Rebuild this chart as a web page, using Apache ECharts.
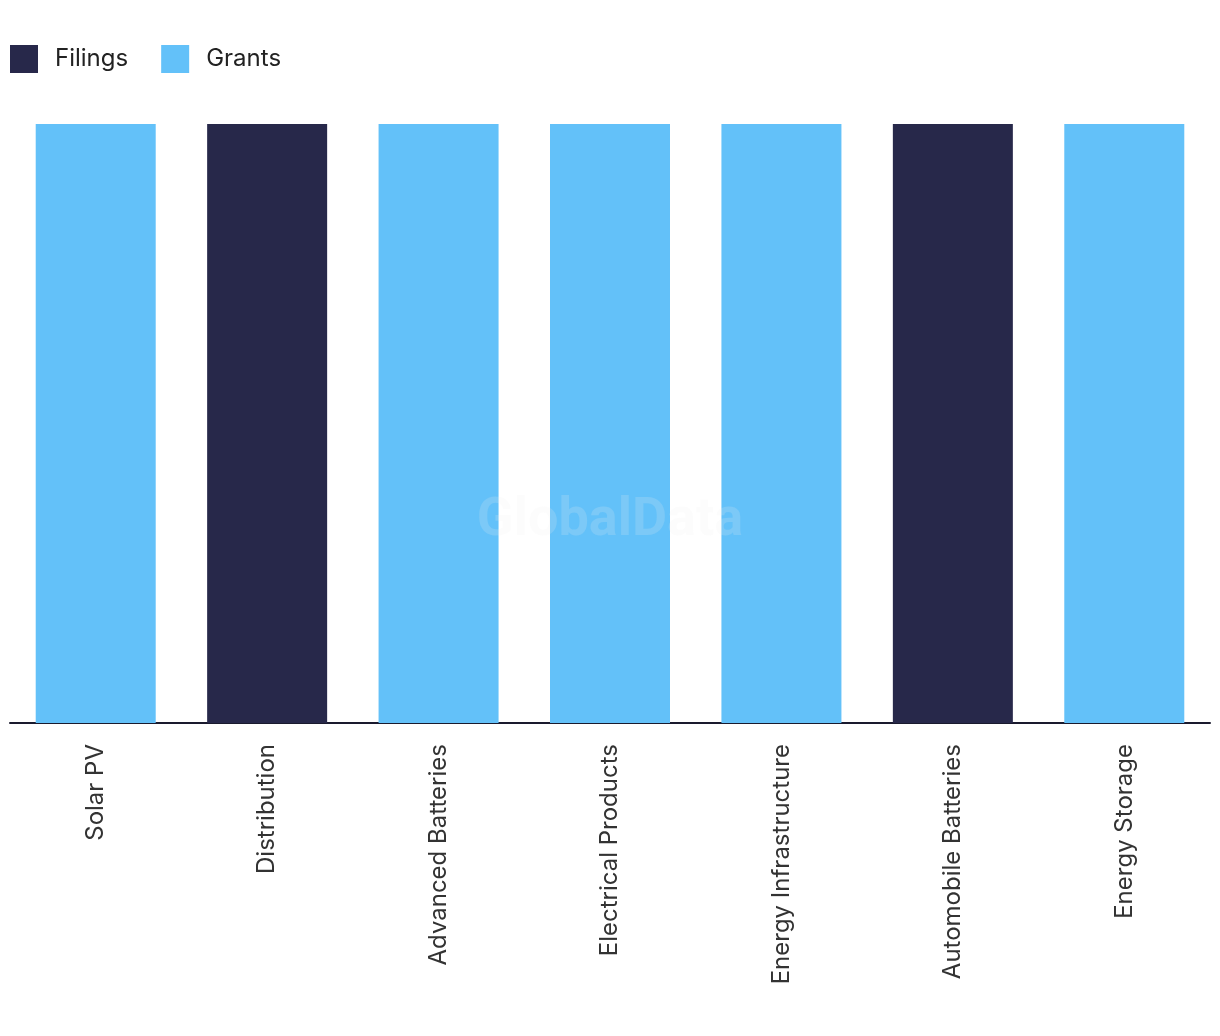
<!DOCTYPE html>
<html>
<head>
<meta charset="utf-8">
<script src="https://cdn.jsdelivr.net/npm/echarts@6/dist/echarts.min.js"></script>
<style>html,body{margin:0;padding:0;background:#fff}#c{width:1220px;height:1036px}</style>
</head>
<body>
<div id="c"></div>
<script>
const categories = ['Solar PV','Distribution','Advanced Batteries','Electrical Products','Energy Infrastructure','Automobile Batteries','Energy Storage'];
const filings = [0,1,0,0,0,1,0];
const grants = [1,0,1,1,1,0,1];
const seriesNames = ['Filings','Grants'];

const chart = echarts.init(document.getElementById('c'));
chart.setOption({
  animation:false,
  backgroundColor:'#fff',
  legend:{
    left:10, top:45, padding:0, itemWidth:28, itemHeight:28, itemGap:33,
    icon:'rect',
    textStyle:{fontFamily:'Inter', fontSize:24, color:'#222', padding:[0,0,0,12]},
    data:seriesNames
  },
  graphic:[{
    type:'text', left:'center', top:494, z:100,
    style:{text:'GlobalData', font:'bold 54px Roboto', fill:'rgba(240,240,240,0.18)'}
  }],
  grid:{left:10,right:10,top:124,bottom:313,containLabel:false},
  xAxis:{
    type:'category', data:categories,
    axisLine:{lineStyle:{color:'#1a1a2e',width:2}},
    axisTick:{show:false},
    axisLabel:{rotate:90, margin:21, fontFamily:'Inter', fontSize:24, color:'#333', interval:0}
  },
  yAxis:{type:'value', min:0, max:1, show:false, splitLine:{show:false}},
  series:[
    {name:seriesNames[0], type:'bar', stack:'a', data:filings, barWidth:'70%', itemStyle:{color:'#27284A'}},
    {name:seriesNames[1], type:'bar', stack:'a', data:grants, barWidth:'70%', itemStyle:{color:'#63C1F9'}}
  ]
});
</script>
</body>
</html>
